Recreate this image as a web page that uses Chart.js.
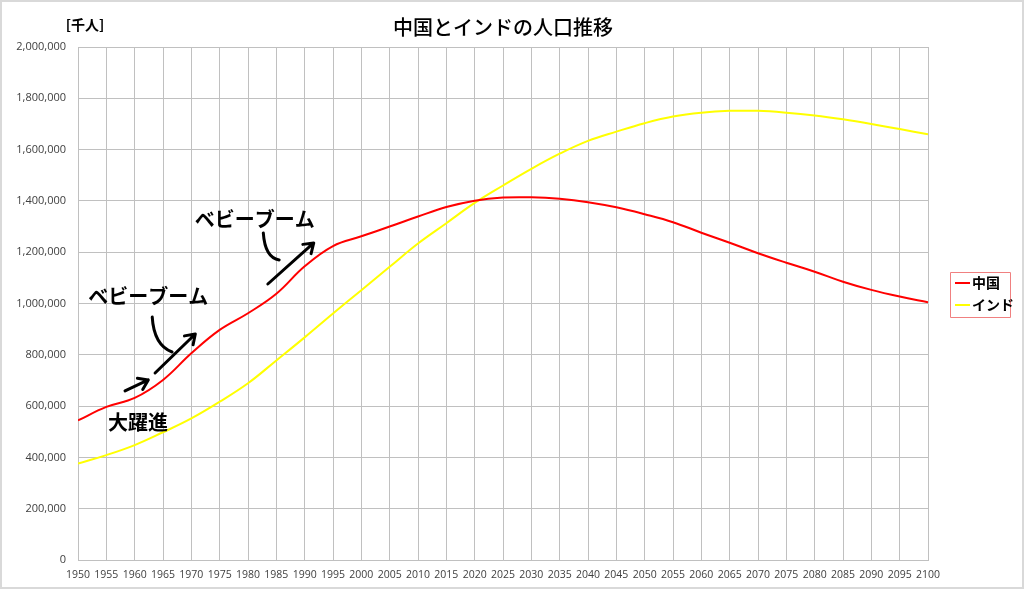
<!DOCTYPE html>
<html>
<head>
<meta charset="utf-8">
<script src="https://cdn.jsdelivr.net/npm/chart.js@4"></script>
<style>
  html, body { margin: 0; padding: 0; background: #fff; }
  #wrap { width: 1024px; height: 589px; }
</style>
</head>
<body>
<div id="wrap"><canvas id="myChart" width="1024" height="589"></canvas></div>
<script>
// years every 5, population in thousands
var years = [1950,1955,1960,1965,1970,1975,1980,1985,1990,1995,2000,2005,2010,2015,2020,2025,2030,2035,2040,2045,2050,2055,2060,2065,2070,2075,2080,2085,2090,2095,2100];
var china = [544000,597000,632000,702000,806000,897000,962000,1038000,1145000,1224000,1262000,1300000,1339000,1376000,1401000,1413000,1414000,1408000,1395000,1375000,1348000,1317000,1276000,1237000,1196000,1159000,1124000,1085000,1053000,1027000,1005000];
var india = [376000,409000,448000,498000,552000,617000,689000,778000,868000,961000,1052000,1143000,1234000,1313000,1392000,1460000,1525000,1584000,1634000,1670000,1703000,1729000,1744000,1751000,1751000,1744000,1733000,1718000,1700000,1680000,1660000];
var seriesNames = ['中国', 'インド'];
var yTicks = [0,200000,400000,600000,800000,1000000,1200000,1400000,1600000,1800000,2000000];

// notes written on the chart, in year / value units
var notes = [
  {text: '大躍進', year: 1960.6, value: 538000},
  {text: 'ベビーブーム', year: 1962.4, value: 1029000},
  {text: 'ベビーブーム', year: 1981.2, value: 1326000}
];
var arrows = [
  [1958.3, 659000, 1962.4, 702000],
  [1963.6, 729000, 1970.7, 881000],
  [1983.5, 1076000, 1991.6, 1236000]
];
// curved strokes: start, control, end
var strokes = [
  [1963.1, 947000, 1963.4, 838000, 1966.6, 811000],
  [1982.7, 1275000, 1983.0, 1178000, 1985.5, 1170000]
];

const toXY = (xs, ys) => xs.map((x, i) => ({x: x, y: ys[i]}));

const extras = {
  id: 'extras',
  afterDraw(chart) {
    const ctx = chart.ctx;
    const xs = chart.scales.x, ys = chart.scales.y;
    ctx.save();
    // outer frame
    ctx.strokeStyle = '#d9d9d9';
    ctx.lineWidth = 2;
    ctx.strokeRect(1, 1, chart.width - 2, chart.height - 2);

    // title and unit
    ctx.fillStyle = '#000';
    ctx.textAlign = 'center';
    ctx.textBaseline = 'middle';
    ctx.font = '500 20px "Noto Sans CJK JP"';
    ctx.fillText('中国とインドの人口推移', (chart.chartArea.left + chart.chartArea.right) / 2, 27);
    ctx.font = 'bold 14px "Noto Sans CJK JP"';
    ctx.fillText('[千人]', 85, 25);

    // notes
    ctx.font = 'bold 20px "Noto Sans CJK JP"';
    notes.forEach(n => ctx.fillText(n.text, xs.getPixelForValue(n.year), ys.getPixelForValue(n.value)));

    ctx.strokeStyle = '#000';
    ctx.lineWidth = 3;
    ctx.lineCap = 'round';
    ctx.lineJoin = 'round';
    strokes.forEach(s => {
      ctx.beginPath();
      ctx.moveTo(xs.getPixelForValue(s[0]), ys.getPixelForValue(s[1]));
      ctx.quadraticCurveTo(xs.getPixelForValue(s[2]), ys.getPixelForValue(s[3]),
                           xs.getPixelForValue(s[4]), ys.getPixelForValue(s[5]));
      ctx.stroke();
    });
    arrows.forEach(a => {
      const x1 = xs.getPixelForValue(a[0]), y1 = ys.getPixelForValue(a[1]);
      const x2 = xs.getPixelForValue(a[2]), y2 = ys.getPixelForValue(a[3]);
      const ang = Math.atan2(y2 - y1, x2 - x1);
      ctx.beginPath();
      ctx.moveTo(x1, y1);
      ctx.lineTo(x2, y2);
      ctx.moveTo(x2 - 11 * Math.cos(ang - 0.6), y2 - 11 * Math.sin(ang - 0.6));
      ctx.lineTo(x2, y2);
      ctx.lineTo(x2 - 11 * Math.cos(ang + 0.6), y2 - 11 * Math.sin(ang + 0.6));
      ctx.stroke();
    });

    // legend
    ctx.lineCap = 'butt';
    ctx.strokeStyle = '#f08080';
    ctx.lineWidth = 1;
    ctx.strokeRect(950.5, 272.5, 60, 45);
    ctx.font = 'bold 14px "Noto Sans CJK JP"';
    ctx.textAlign = 'left';
    chart.data.datasets.forEach((ds, i) => {
      const y = 283 + i * 22;
      ctx.strokeStyle = ds.borderColor;
      ctx.lineWidth = 2;
      ctx.beginPath();
      ctx.moveTo(955, y);
      ctx.lineTo(970, y);
      ctx.stroke();
      ctx.fillStyle = '#000';
      ctx.fillText(ds.label, 972, y);
    });
    ctx.restore();
  }
};

const data = {
  datasets: [
    {
      label: seriesNames[0],
      data: toXY(years, china),
      borderColor: '#ff0000',
      borderWidth: 2,
      pointRadius: 0,
      tension: 0.4
    },
    {
      label: seriesNames[1],
      data: toXY(years, india),
      borderColor: '#ffff00',
      borderWidth: 2,
      pointRadius: 0,
      tension: 0.4
    }
  ]
};

const config = {
  type: 'line',
  data: data,
  options: {
    responsive: false,
    animation: false,
    layout: { padding: { top: 47, right: 96, left: 0, bottom: 0 } },
    plugins: {
      legend: { display: false },
      title: { display: false },
      tooltip: { enabled: false }
    },
    scales: {
      x: {
        type: 'linear',
        min: 1950,
        max: 2100,
        afterFit: s => { s.height = 29; },
        afterBuildTicks: s => { s.ticks = years.map(v => ({value: v})); },
        grid: { color: '#c0c0c0', drawTicks: false },
        border: { color: '#c0c0c0' },
        ticks: {
          padding: 9,
          maxRotation: 0,
          autoSkip: false,
          color: '#404040',
          font: { family: '"Open Sans"', size: 10.5 },
          callback: v => String(v)
        }
      },
      y: {
        min: 0,
        max: 2000000,
        afterFit: s => { s.width = 78; },
        afterBuildTicks: s => { s.ticks = yTicks.map(v => ({value: v})); },
        grid: { color: '#c0c0c0', drawTicks: false },
        border: { color: '#c0c0c0' },
        ticks: {
          padding: 12,
          color: '#404040',
          font: { family: '"Open Sans"', size: 11 },
          callback: v => v.toLocaleString('en-US')
        }
      }
    }
  },
  plugins: [extras]
};

// render init block
const myChart = new Chart(document.getElementById('myChart'), config);
</script>
</body>
</html>
